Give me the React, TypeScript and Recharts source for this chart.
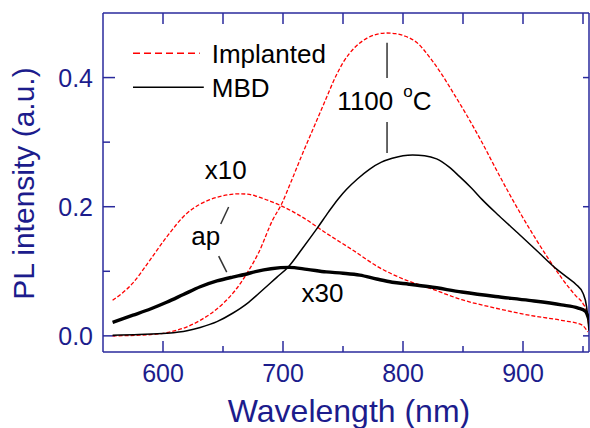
import { LineChart, Line, XAxis, YAxis, ReferenceLine, ReferenceDot } from "recharts";

// Implanted, annealed at 1100 C (red dashed, big peak)
const implantedHotNm = [558, 580, 600, 620, 631, 650, 660, 670, 680, 691, 699, 707, 716, 728, 736, 744, 750, 760, 770, 778, 786, 794, 802, 811, 824, 833, 841, 853, 866, 877, 888, 899, 910, 921, 932, 944, 950, 953, 955];
const implantedHotVal = [0.0, 0.001, 0.004, 0.014, 0.024, 0.05, 0.07, 0.097, 0.13, 0.178, 0.205, 0.24, 0.281, 0.333, 0.368, 0.402, 0.423, 0.447, 0.461, 0.467, 0.469, 0.468, 0.464, 0.455, 0.427, 0.403, 0.379, 0.342, 0.299, 0.26, 0.222, 0.186, 0.152, 0.12, 0.09, 0.062, 0.05, 0.038, 0.012];

// MBD, annealed at 1100 C (black solid)
const mbdHotNm = [558, 580, 603, 620, 631, 645, 658, 670, 680, 695, 704, 716, 729, 738, 746, 753, 762, 772, 782, 791, 800, 808, 818, 828, 838, 847, 857, 866, 880, 897, 912, 927, 938, 944, 950, 953, 955];
const mbdHotVal = [0.001, 0.002, 0.004, 0.008, 0.013, 0.022, 0.035, 0.05, 0.066, 0.091, 0.106, 0.135, 0.168, 0.192, 0.212, 0.227, 0.243, 0.258, 0.269, 0.275, 0.279, 0.28, 0.279, 0.274, 0.262, 0.247, 0.229, 0.211, 0.186, 0.157, 0.131, 0.105, 0.089, 0.08, 0.066, 0.045, 0.008];

// Implanted, as prepared, x10 (red dashed)
const implantedApNm = [558, 575, 589, 603, 620, 630, 639, 650, 664, 672, 680, 690, 699, 716, 736, 758, 780, 803, 822, 849, 877, 905, 932, 949, 954];
const implantedApVal = [0.055, 0.082, 0.117, 0.153, 0.19, 0.203, 0.211, 0.217, 0.22, 0.219, 0.215, 0.208, 0.201, 0.184, 0.159, 0.133, 0.106, 0.086, 0.074, 0.056, 0.043, 0.032, 0.024, 0.017, 0.006];

// MBD, as prepared, x30 (black thick)
const mbdApNm = [558, 575, 590, 603, 617, 631, 645, 658, 668, 678, 690, 705, 720, 736, 750, 764, 778, 791, 805, 822, 849, 877, 905, 932, 946, 952, 955];
const mbdApVal = [0.021, 0.032, 0.042, 0.052, 0.064, 0.076, 0.085, 0.091, 0.095, 0.1, 0.104, 0.106, 0.103, 0.099, 0.097, 0.094, 0.088, 0.083, 0.08, 0.076, 0.068, 0.061, 0.055, 0.048, 0.043, 0.038, 0.025];

const xTicks = [600, 650, 700, 750, 800, 850, 900, 950];
const yTicks = [0, 0.1, 0.2, 0.3, 0.4];
const rightTicks = [0, 0.2, 0.4];

const X_DOMAIN: [number, number] = [550, 955];
const Y_DOMAIN: [number, number] = [-0.025, 0.5];

const AXIS = "#2a2a9c";
const NAVY = "#1c1c8c";
const FONT = "'Liberation Sans', Arial, sans-serif";

// plot area is 486 x 339 px
const NM_PER_PX = (X_DOMAIN[1] - X_DOMAIN[0]) / 486;
const Y_PER_PX = (Y_DOMAIN[1] - Y_DOMAIN[0]) / 339;

const toPoints = (xs: number[], ys: number[]) => xs.map((nm, i) => ({ nm, v: ys[i] }));

function BottomTick(props: any) {
  const { x, y, payload } = props;
  if (payload.value % 100 !== 0) return <g />;
  return (
    <text x={x} y={y + 30} textAnchor="middle" fill={NAVY} fontSize={25} fontFamily={FONT}>
      {payload.value}
    </text>
  );
}

function LeftTick(props: any) {
  const { x, y, payload } = props;
  if (Math.round(payload.value * 10) % 2 !== 0) return <g />;
  return (
    <text x={x - 10} y={y + 9.5} textAnchor="end" fill={NAVY} fontSize={25} fontFamily={FONT}>
      {payload.value.toFixed(1)}
    </text>
  );
}

function XTitle({ viewBox }: any) {
  return (
    <text x={viewBox.x + viewBox.width / 2 + 3} y={viewBox.y + 70} textAnchor="middle" fill={NAVY} fontSize={32} fontFamily={FONT}>
      Wavelength (nm)
    </text>
  );
}

function YTitle({ viewBox }: any) {
  const cx = viewBox.x + 34;
  const cy = viewBox.y + viewBox.height / 2 + 1;
  return (
    <text x={cx} y={cy} transform={`rotate(-90, ${cx}, ${cy})`} textAnchor="middle" fill={NAVY} fontSize={30} fontFamily={FONT}>
      PL intensity (a.u.)
    </text>
  );
}

const note = (text: string, anchor: "start" | "middle") => (p: any) => (
  <text x={p.cx} y={p.cy} textAnchor={anchor} fill="#000" fontSize={26} fontFamily={FONT}>
    {text}
  </text>
);

const hotLabel = (p: any) => (
  <text x={p.cx} y={p.cy} fill="#000" fontSize={26} fontFamily={FONT}>
    <tspan>1100</tspan>
    <tspan dx={10} dy={-13} fontSize={17}>o</tspan>
    <tspan dy={13}>C</tspan>
  </text>
);

const leader = { stroke: "#333", strokeWidth: 1.5 };
const tickStyle = { stroke: AXIS, strokeWidth: 1.5, ifOverflow: "visible" as const };

export default function App() {
  const [x0, x1] = X_DOMAIN;
  const [y0, y1] = Y_DOMAIN;
  return (
    <div style={{ position: "absolute", left: 0, top: 0, width: 590, height: 428, background: "#fff" }}>
      <LineChart width={590} height={428} margin={{ top: 13, right: 1, bottom: 0, left: 0 }}>
        <XAxis
          dataKey="nm"
          type="number"
          domain={X_DOMAIN}
          allowDataOverflow
          ticks={xTicks}
          interval={0}
          height={76}
          stroke={AXIS}
          strokeWidth={1.5}
          tickLine={false}
          tickSize={0}
          tickMargin={0}
          tick={BottomTick}
          label={<XTitle />}
        />
        <YAxis
          type="number"
          domain={Y_DOMAIN}
          allowDataOverflow
          ticks={yTicks}
          interval={0}
          width={103}
          stroke={AXIS}
          strokeWidth={1.5}
          tickLine={false}
          tickSize={0}
          tickMargin={0}
          tick={LeftTick}
          label={<YTitle />}
        />

        {/* frame: top and right axes */}
        <ReferenceLine y={y1} {...tickStyle} />
        <ReferenceLine x={x1} {...tickStyle} />

        {/* inward tick marks */}
        {xTicks.map((t) => (
          <ReferenceLine key={`b${t}`} segment={[{ x: t, y: y0 }, { x: t, y: y0 + (t % 100 === 0 ? 11 : 6) * Y_PER_PX }]} {...tickStyle} />
        ))}
        {xTicks.map((t) => (
          <ReferenceLine key={`t${t}`} segment={[{ x: t, y: y1 }, { x: t, y: y1 - 11 * Y_PER_PX }]} {...tickStyle} />
        ))}
        {yTicks.map((t) => (
          <ReferenceLine key={`l${t}`} segment={[{ x: x0, y: t }, { x: x0 + (Math.round(t * 10) % 2 === 0 ? 12 : 7) * NM_PER_PX, y: t }]} {...tickStyle} />
        ))}
        {rightTicks.map((t) => (
          <ReferenceLine key={`r${t}`} segment={[{ x: x1, y: t }, { x: x1 - 6 * NM_PER_PX, y: t }]} {...tickStyle} />
        ))}

        <Line data={toPoints(implantedApNm, implantedApVal)} dataKey="v" type="monotone" stroke="#ff0000" strokeWidth={1.3} strokeDasharray="4 2" dot={false} activeDot={false} isAnimationActive={false} />
        <Line data={toPoints(implantedHotNm, implantedHotVal)} dataKey="v" type="monotone" stroke="#ff0000" strokeWidth={1.3} strokeDasharray="4 2" dot={false} activeDot={false} isAnimationActive={false} />
        <Line data={toPoints(mbdHotNm, mbdHotVal)} dataKey="v" type="monotone" stroke="#000" strokeWidth={1.5} dot={false} activeDot={false} isAnimationActive={false} />
        <Line data={toPoints(mbdApNm, mbdApVal)} dataKey="v" type="monotone" stroke="#000" strokeWidth={3.4} dot={false} activeDot={false} isAnimationActive={false} />

        {/* legend */}
        <ReferenceLine segment={[{ x: 575, y: 0.4378 }, { x: 630.6, y: 0.4378 }]} stroke="#ff0000" strokeWidth={1.5} strokeDasharray="7 4" />
        <ReferenceLine segment={[{ x: 575, y: 0.3851 }, { x: 634, y: 0.3851 }]} stroke="#000" strokeWidth={1.5} />
        <ReferenceDot x={640.6} y={0.4228} r={0} shape={note("Implanted", "start")} />
        <ReferenceDot x={640.6} y={0.37} r={0} shape={note("MBD", "start")} />

        {/* annotations */}
        <ReferenceLine segment={[{ x: 786.7, y: 0.4538 }, { x: 786.7, y: 0.3995 }]} {...leader} />
        <ReferenceLine segment={[{ x: 786.7, y: 0.3313 }, { x: 786.7, y: 0.2833 }]} {...leader} />
        <ReferenceDot x={745.3} y={0.35} r={0} shape={hotLabel} />
        <ReferenceLine segment={[{ x: 654.7, y: 0.1996 }, { x: 648.1, y: 0.1732 }]} {...leader} />
        <ReferenceLine segment={[{ x: 646.4, y: 0.1236 }, { x: 653.1, y: 0.0988 }]} {...leader} />
        <ReferenceDot x={652.2} y={0.2429} r={0} shape={note("x10", "middle")} />
        <ReferenceDot x={635.6} y={0.1406} r={0} shape={note("ap", "middle")} />
        <ReferenceDot x={732.9} y={0.0522} r={0} shape={note("x30", "middle")} />
      </LineChart>
    </div>
  );
}
